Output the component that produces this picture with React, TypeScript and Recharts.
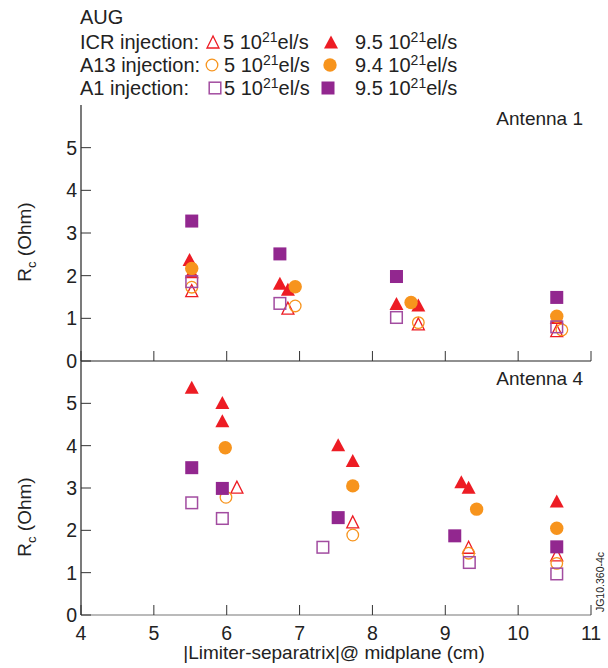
import React from 'react';
import { ScatterChart, Scatter, XAxis, YAxis } from 'recharts';

const xTicks = [4, 5, 6, 7, 8, 9, 10, 11];
const yTicks = [0, 1, 2, 3, 4, 5];

// Antenna 1 (top panel)
const ant1IcrLowX = [5.52, 6.84, 8.63, 10.53];
const ant1IcrLowY = [1.65, 1.24, 0.87, 0.71];
const ant1IcrHighX = [5.52, 5.49, 6.73, 6.84, 8.33, 8.63, 10.53];
const ant1IcrHighY = [2.09, 2.38, 1.82, 1.68, 1.35, 1.31, 1.02];
const ant1A13LowX = [5.52, 6.94, 8.63, 10.6];
const ant1A13LowY = [1.73, 1.29, 0.9, 0.73];
const ant1A13HighX = [5.52, 6.94, 8.53, 10.53];
const ant1A13HighY = [2.17, 1.74, 1.37, 1.05];
const ant1A1LowX = [5.52, 6.73, 8.33, 10.53];
const ant1A1LowY = [1.86, 1.35, 1.02, 0.8];
const ant1A1HighX = [5.52, 6.73, 8.33, 10.53];
const ant1A1HighY = [3.28, 2.51, 1.98, 1.49];

// Antenna 4 (bottom panel)
const ant4IcrLowX = [6.14, 7.73, 9.32, 10.53];
const ant4IcrLowY = [3.02, 2.2, 1.6, 1.42];
const ant4IcrHighX = [5.52, 5.94, 5.94, 7.53, 7.73, 9.22, 9.32, 10.53];
const ant4IcrHighY = [5.38, 5.02, 4.59, 4.02, 3.65, 3.15, 3.02, 2.69];
const ant4A13LowX = [5.99, 7.73, 9.32, 10.53];
const ant4A13LowY = [2.78, 1.89, 1.46, 1.22];
const ant4A13HighX = [5.98, 7.73, 9.43, 10.53];
const ant4A13HighY = [3.95, 3.05, 2.5, 2.05];
const ant4A1LowX = [5.52, 5.94, 7.32, 9.33, 10.53];
const ant4A1LowY = [2.65, 2.28, 1.6, 1.24, 0.97];
const ant4A1HighX = [5.52, 5.94, 7.53, 9.13, 10.53];
const ant4A1HighY = [3.48, 2.99, 2.3, 1.87, 1.61];

const RED = '#ed1c24';
const ORANGE = '#f7941d';
const PURPLE = '#92278f';
const PURPLE_LIGHT = '#a24ca0';
const FONT = '"Liberation Sans", Arial, Helvetica, sans-serif';

const toPts = (xs: number[], ys: number[]) => xs.map((x, i) => ({ x, y: ys[i] }));

type Kind = 'tri' | 'circle' | 'square';

function Marker({ cx, cy, kind, filled }: { cx: number; cy: number; kind: Kind; filled: boolean }) {
  if (cx == null || cy == null) return null;
  if (kind === 'tri') {
    const w = filled ? 7 : 6;
    const h = filled ? 6.5 : 6;
    const pts = `${cx},${cy - h} ${cx - w},${cy + h} ${cx + w},${cy + h}`;
    return filled
      ? <polygon points={pts} fill={RED} />
      : <polygon points={pts} fill="none" stroke={RED} strokeWidth={1.3} />;
  }
  if (kind === 'circle') {
    return filled
      ? <circle cx={cx} cy={cy} r={6.7} fill={ORANGE} />
      : <circle cx={cx} cy={cy} r={5.8} fill="none" stroke={ORANGE} strokeWidth={1.3} />;
  }
  return filled
    ? <rect x={cx - 6.5} y={cy - 6.5} width={13} height={13} fill={PURPLE} />
    : <rect x={cx - 5.8} y={cy - 5.8} width={11.6} height={11.6} fill="none" stroke={PURPLE_LIGHT} strokeWidth={1.5} />;
}

const shape = (kind: Kind, filled: boolean) => (p: any) => <Marker cx={p.cx} cy={p.cy} kind={kind} filled={filled} />;

const YTick = (props: any) => {
  const { x, y, payload } = props;
  return (
    <g>
      <line x1={x} y1={y} x2={x + 10} y2={y} stroke="#333" strokeWidth={1} />
      <text x={x - 4} y={y} textAnchor="end" dominantBaseline="central" fontSize={19.5} fill="#222" fontFamily={FONT}>
        {payload.value}
      </text>
    </g>
  );
};

const XTick = (props: any) => {
  const { x, y, payload, showLabel } = props;
  return (
    <g>
      <line x1={x} y1={y} x2={x} y2={y - 10} stroke="#333" strokeWidth={1} />
      {showLabel && (
        <text x={x} y={y + 18} textAnchor="middle" dominantBaseline="central" fontSize={19.5} fill="#222" fontFamily={FONT}>
          {payload.value}
        </text>
      )}
    </g>
  );
};

interface PanelSeries {
  icrLow: { x: number; y: number }[];
  icrHigh: { x: number; y: number }[];
  a13Low: { x: number; y: number }[];
  a13High: { x: number; y: number }[];
  a1Low: { x: number; y: number }[];
  a1High: { x: number; y: number }[];
}

function Panel({ series, top, height, marginTop, xAxisHeight, showXLabels, showTopFrame, bottomStroke }: {
  series: PanelSeries; top: number; height: number; marginTop: number; xAxisHeight: number;
  showXLabels: boolean; showTopFrame: boolean; bottomStroke: string;
}) {
  return (
    <div style={{ position: 'absolute', left: 0, top, width: 608, height }}>
      <ScatterChart width={608} height={height} margin={{ top: marginTop, right: 17, bottom: 0, left: 0 }}>
        <XAxis
          dataKey="x"
          type="number"
          domain={[4, 11]}
          ticks={xTicks}
          interval={0}
          tickSize={0}
          tickMargin={0}
          tickLine={false}
          height={xAxisHeight}
          axisLine={{ stroke: bottomStroke, strokeWidth: 1.2 }}
          tick={<XTick showLabel={showXLabels} />}
        />
        {showTopFrame && (
          <XAxis xAxisId="top" orientation="top" type="number" domain={[4, 11]} height={0}
            tick={false} tickLine={false} axisLine={{ stroke: '#777', strokeWidth: 1.2 }} />
        )}
        <YAxis
          dataKey="y"
          type="number"
          domain={[0, 6]}
          ticks={yTicks}
          interval={0}
          width={81}
          tickSize={0}
          tickMargin={0}
          tickLine={false}
          axisLine={{ stroke: '#222', strokeWidth: 1.2 }}
          tick={<YTick />}
        />
        <YAxis yAxisId="right" orientation="right" type="number" domain={[0, 6]} width={0}
          tick={false} tickLine={false} axisLine={{ stroke: '#333', strokeWidth: 1.2 }} />
        <Scatter data={series.icrHigh} shape={shape('tri', true)} isAnimationActive={false} />
        <Scatter data={series.icrLow} shape={shape('tri', false)} isAnimationActive={false} />
        <Scatter data={series.a13High} shape={shape('circle', true)} isAnimationActive={false} />
        <Scatter data={series.a13Low} shape={shape('circle', false)} isAnimationActive={false} />
        <Scatter data={series.a1Low} shape={shape('square', false)} isAnimationActive={false} />
        <Scatter data={series.a1High} shape={shape('square', true)} isAnimationActive={false} />
      </ScatterChart>
    </div>
  );
}

const Sup = ({ children }: { children: React.ReactNode }) => (
  <>
    <tspan dy={-7} fontSize={14}>{children}</tspan>
    <tspan dy={7}>el/s</tspan>
  </>
);

export default function App() {
  const ant1: PanelSeries = {
    icrLow: toPts(ant1IcrLowX, ant1IcrLowY),
    icrHigh: toPts(ant1IcrHighX, ant1IcrHighY),
    a13Low: toPts(ant1A13LowX, ant1A13LowY),
    a13High: toPts(ant1A13HighX, ant1A13HighY),
    a1Low: toPts(ant1A1LowX, ant1A1LowY),
    a1High: toPts(ant1A1HighX, ant1A1HighY),
  };
  const ant4: PanelSeries = {
    icrLow: toPts(ant4IcrLowX, ant4IcrLowY),
    icrHigh: toPts(ant4IcrHighX, ant4IcrHighY),
    a13Low: toPts(ant4A13LowX, ant4A13LowY),
    a13High: toPts(ant4A13HighX, ant4A13HighY),
    a1Low: toPts(ant4A1LowX, ant4A1LowY),
    a1High: toPts(ant4A1HighX, ant4A1HighY),
  };

  const textStyle = { fontFamily: FONT, fill: '#222' };

  return (
    <div style={{ position: 'absolute', left: 0, top: 0, width: 608, height: 668, background: '#fff' }}>
      <Panel series={ant4} top={340} height={328} marginTop={21} xAxisHeight={53}
        showXLabels showTopFrame={false} bottomStroke="#777" />
      <Panel series={ant1} top={0} height={385} marginTop={105} xAxisHeight={24}
        showXLabels={false} showTopFrame bottomStroke="#222" />

      <svg width={608} height={668} style={{ position: 'absolute', left: 0, top: 0, pointerEvents: 'none' }}>
        {/* legend */}
        <g fontSize={20} style={textStyle}>
          <text x={80} y={24}>AUG</text>
          <text x={80} y={49}>ICR injection:</text>
          <Marker cx={213} cy={42} kind="tri" filled={false} />
          <text x={223} y={49}>5 10<Sup>21</Sup></text>
          <Marker cx={331} cy={42} kind="tri" filled />
          <text x={355} y={49}>9.5 10<Sup>21</Sup></text>

          <text x={80} y={72}>A13 injection:</text>
          <Marker cx={212} cy={65} kind="circle" filled={false} />
          <text x={224} y={72}>5 10<Sup>21</Sup></text>
          <Marker cx={330} cy={65} kind="circle" filled />
          <text x={355} y={72}>9.4 10<Sup>21</Sup></text>

          <text x={80} y={95}>A1 injection:</text>
          <Marker cx={215} cy={88} kind="square" filled={false} />
          <text x={224} y={95}>5 10<Sup>21</Sup></text>
          <Marker cx={328} cy={88} kind="square" filled />
          <text x={355} y={95}>9.5 10<Sup>21</Sup></text>
        </g>

        {/* panel labels */}
        <text x={583} y={125} textAnchor="end" fontSize={19} style={textStyle}>Antenna 1</text>
        <text x={583} y={385} textAnchor="end" fontSize={19} style={textStyle}>Antenna 4</text>

        {/* y labels */}
        <text transform="translate(31,242) rotate(-90)" textAnchor="middle" fontSize={19} style={textStyle}>
          R<tspan dy={5} fontSize={13}>c</tspan><tspan dy={-5}> (Ohm)</tspan>
        </text>
        <text transform="translate(31,517) rotate(-90)" textAnchor="middle" fontSize={19} style={textStyle}>
          R<tspan dy={5} fontSize={13}>c</tspan><tspan dy={-5}> (Ohm)</tspan>
        </text>

        {/* x label */}
        <text x={334} y={659} textAnchor="middle" fontSize={19} style={textStyle}>
          |Limiter-separatrix|@ midplane (cm)
        </text>

        {/* figure id */}
        <text transform="translate(604,582) rotate(-90)" textAnchor="middle" fontSize={10.5} style={textStyle}>
          JG10.360-4c
        </text>
      </svg>
    </div>
  );
}
